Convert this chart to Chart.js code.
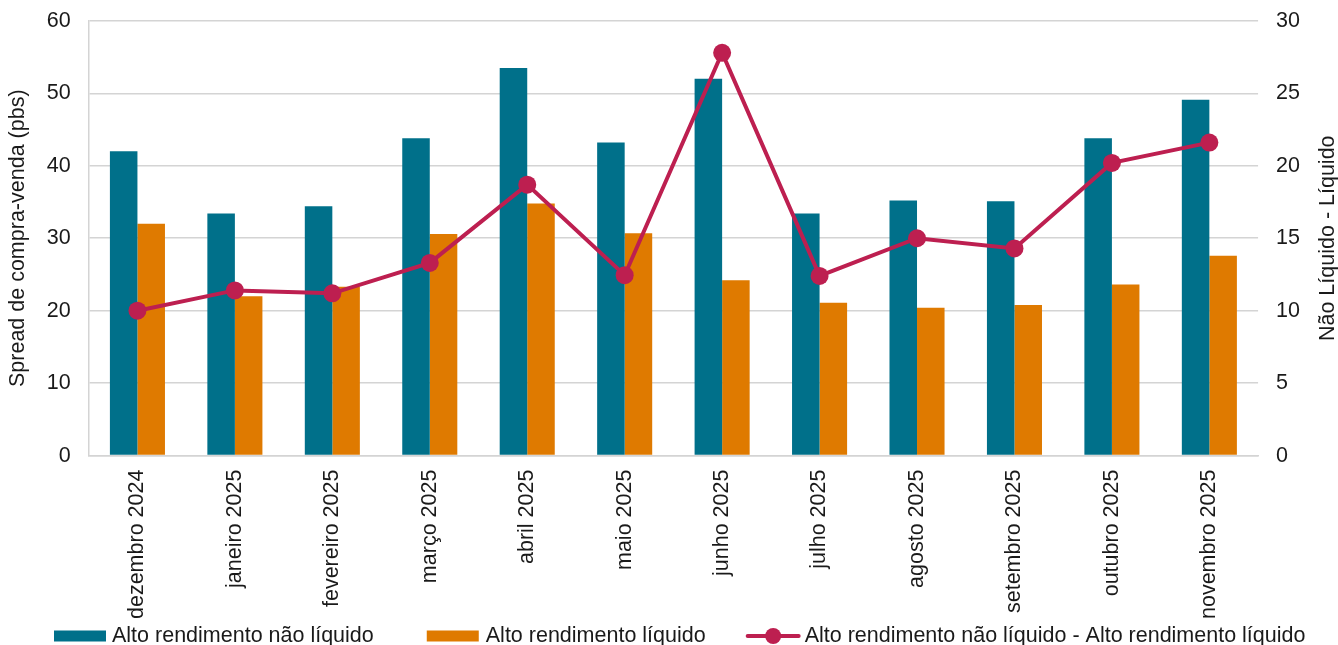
<!DOCTYPE html>
<html>
<head>
<meta charset="utf-8">
<script src="https://cdn.jsdelivr.net/npm/chart.js@4/dist/chart.umd.min.js"></script>
<style>
    html, body { margin: 0; padding: 0; background: #fff; }
    #wrap { width: 1338px; height: 645px; position: relative; }
</style>
</head>
<body>
<div id="wrap"><canvas id="myChart"></canvas></div>
<script>
'use strict';

// ---- data ----
const months = ['dezembro 2024', 'janeiro 2025', 'fevereiro 2025', 'março 2025', 'abril 2025', 'maio 2025',
    'junho 2025', 'julho 2025', 'agosto 2025', 'setembro 2025', 'outubro 2025', 'novembro 2025'];
const naoLiquido = [42.0, 33.4, 34.4, 43.8, 53.5, 43.2, 52.0, 33.4, 35.2, 35.1, 43.8, 49.1];
const liquido = [32.0, 22.0, 23.3, 30.6, 34.8, 30.7, 24.2, 21.1, 20.4, 20.8, 23.6, 27.6];
const diferenca = [10.0, 11.4, 11.2, 13.3, 18.7, 12.45, 27.8, 12.4, 15.0, 14.3, 20.2, 21.6];

const leftTicks = [0, 10, 20, 30, 40, 50, 60];
const rightTicks = [0, 5, 10, 15, 20, 25, 30];

const seriesNames = ['Alto rendimento não líquido', 'Alto rendimento líquido',
    'Alto rendimento não líquido - Alto rendimento líquido'];
const leftTitle = 'Spread de compra-venda (pbs)';
const rightTitle = 'Não Líquido - Líquido';

const TEAL = '#00708a';
const ORANGE = '#df7a00';
const CRIMSON = '#bd1f50';
const GRID = '#d4d4d4';
const TEXT = '#1a1a1a';
const FONT = "'Liberation Sans', Arial, sans-serif";
const FS = 21.5;

Chart.defaults.font.family = FONT;
Chart.defaults.font.size = FS;
Chart.defaults.color = TEXT;

// right axis title reads bottom-to-top, chart.js would draw it top-to-bottom
const rightTitlePlugin = {
    id: 'rightTitle',
    afterDraw(chart) {
        const ctx = chart.ctx;
        ctx.save();
        ctx.translate(1328, (chart.chartArea.top + chart.chartArea.bottom) / 2);
        ctx.rotate(-Math.PI / 2);
        ctx.font = FS + 'px ' + FONT;
        ctx.fillStyle = TEXT;
        ctx.textAlign = 'center';
        ctx.textBaseline = 'middle';
        ctx.fillText(rightTitle, 0, 0);
        ctx.restore();
    }
};

// legend drawn below the axis labels, spaced like the original
const bottomLegend = {
    id: 'bottomLegend',
    afterDraw(chart) {
        const ctx = chart.ctx;
        const y = 636;
        const gaps = [53, 40];
        ctx.save();
        ctx.font = FS + 'px ' + FONT;
        ctx.textBaseline = 'middle';
        ctx.textAlign = 'left';
        const items = [
            { text: seriesNames[0], color: TEAL, kind: 'box', sw: 52, tg: 6 },
            { text: seriesNames[1], color: ORANGE, kind: 'box', sw: 52, tg: 7 },
            { text: seriesNames[2], color: CRIMSON, kind: 'line', sw: 55, tg: 4 },
        ];
        let x = 54;
        items.forEach((it, i) => {
            ctx.fillStyle = it.color;
            ctx.strokeStyle = it.color;
            if (it.kind === 'box') {
                ctx.fillRect(x, y - 5.5, it.sw, 11);
            } else {
                ctx.lineWidth = 4;
                ctx.lineCap = 'round';
                ctx.beginPath(); ctx.moveTo(x + 2, y); ctx.lineTo(x + it.sw - 2, y); ctx.stroke();
                ctx.beginPath(); ctx.arc(x + it.sw / 2, y, 8, 0, Math.PI * 2); ctx.fill();
            }
            ctx.fillStyle = TEXT;
            ctx.fillText(it.text, x + it.sw + it.tg, y);
            x += it.sw + it.tg + ctx.measureText(it.text).width + (gaps[i] || 0);
        });
        ctx.restore();
    }
};

const ctx = document.getElementById('myChart').getContext('2d');
const chart = new Chart(ctx, {
    type: 'bar',
    data: {
        labels: months,
        datasets: [{
            type: 'line',
            label: seriesNames[2],
            data: diferenca,
            yAxisID: 'y1',
            borderColor: CRIMSON,
            backgroundColor: CRIMSON,
            borderWidth: 4,
            pointRadius: 9,
            pointHoverRadius: 9,
            pointBackgroundColor: CRIMSON,
            pointBorderWidth: 0,
            tension: 0,
            order: 0,
        }, {
            label: seriesNames[0],
            data: naoLiquido,
            yAxisID: 'y',
            backgroundColor: TEAL,
            barPercentage: 1,
            categoryPercentage: 0.565,
            order: 1,
        }, {
            label: seriesNames[1],
            data: liquido,
            yAxisID: 'y',
            backgroundColor: ORANGE,
            barPercentage: 1,
            categoryPercentage: 0.565,
            order: 1,
        }]
    },
    options: {
        responsive: true,
        maintainAspectRatio: false,
        animation: false,
        layout: { padding: { top: 0, left: 0, right: 30, bottom: 12 } },
        plugins: {
            tooltip: { enabled: false },
            legend: { display: false },
        },
        scales: {
            x: {
                grid: { display: false, drawTicks: false },
                border: { display: true, color: GRID, width: 1.5 },
                ticks: { maxRotation: 90, minRotation: 90, padding: 14 },
            },
            y: {
                position: 'left',
                min: 0, max: 60,
                afterBuildTicks: axis => { axis.ticks = leftTicks.map(v => ({ value: v })); },
                grid: { color: GRID, lineWidth: 1.5, drawTicks: true, tickLength: 10, tickColor: 'rgba(0,0,0,0)' },
                border: { display: true, color: GRID, width: 1.5 },
                ticks: { padding: 8 },
                title: {
                    display: true,
                    text: leftTitle,
                    padding: { top: 5, bottom: 8 },
                },
            },
            y1: {
                position: 'right',
                min: 0, max: 30,
                afterBuildTicks: axis => { axis.ticks = rightTicks.map(v => ({ value: v })); },
                grid: { drawOnChartArea: false, drawTicks: true, tickLength: 10, tickColor: 'rgba(0,0,0,0)' },
                border: { display: false },
                ticks: { padding: 8 },
                title: { display: false },
            },
        },
    },
    plugins: [rightTitlePlugin, bottomLegend],
});
</script>
</body>
</html>
